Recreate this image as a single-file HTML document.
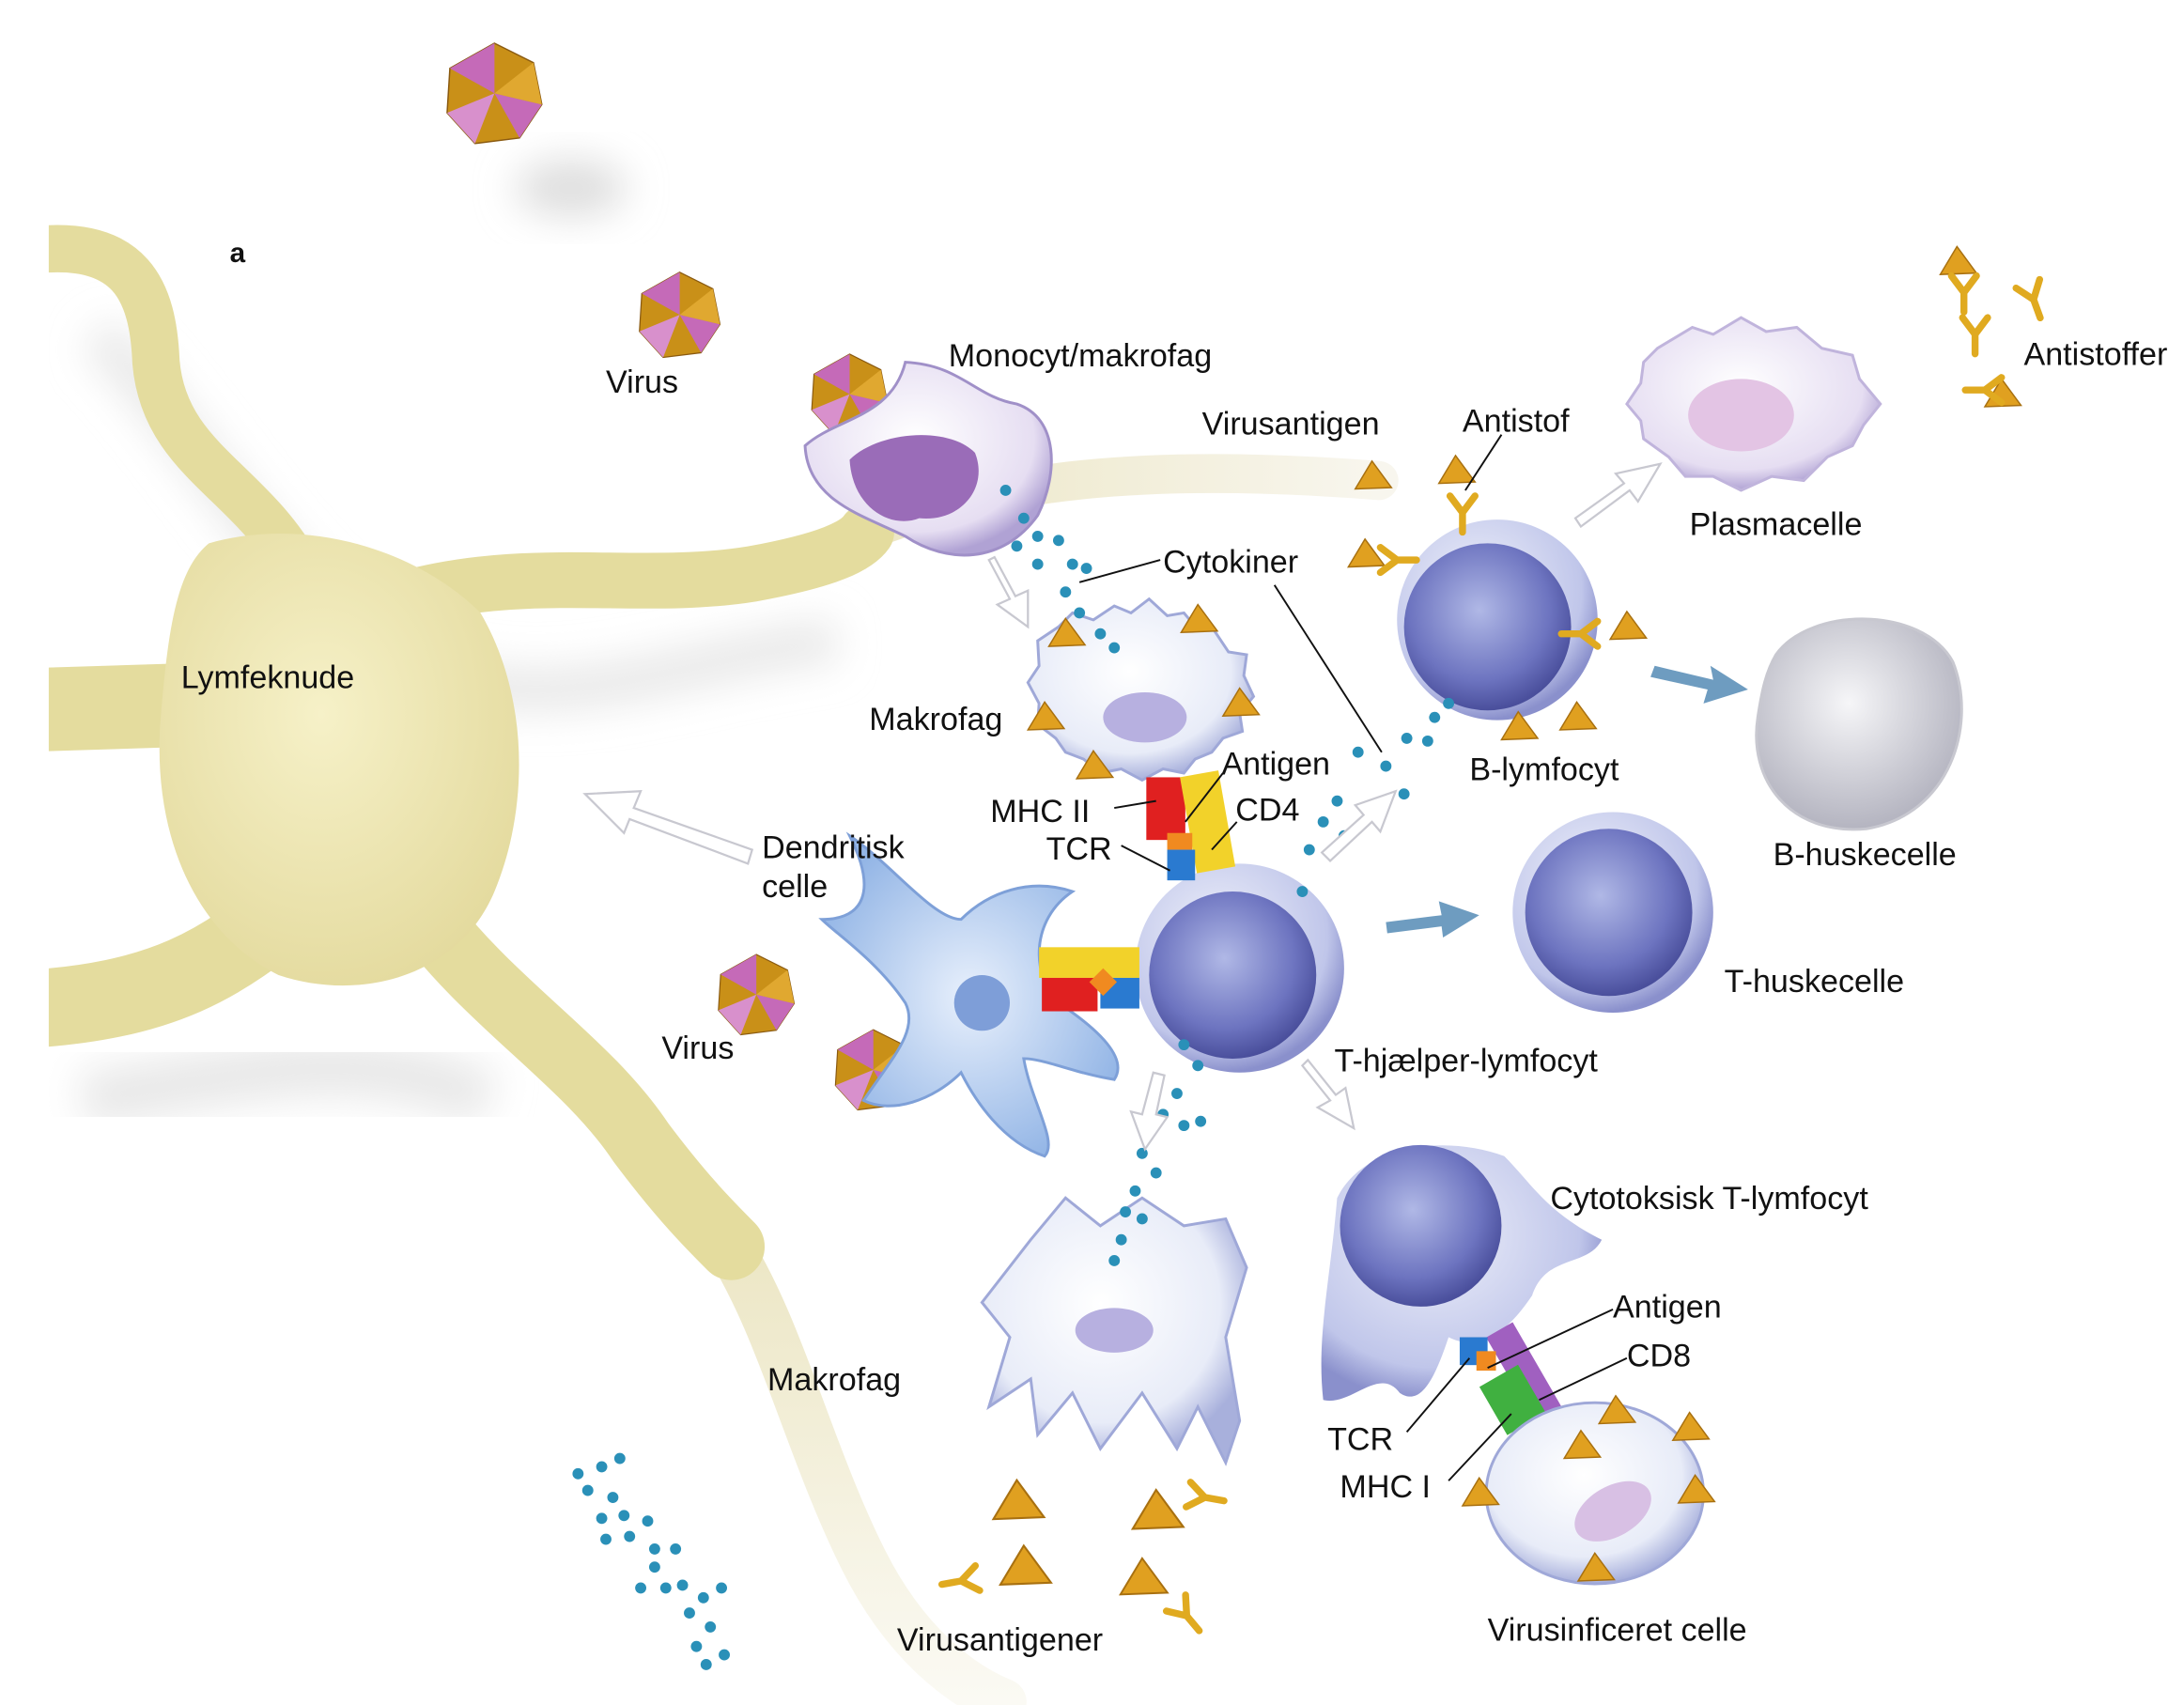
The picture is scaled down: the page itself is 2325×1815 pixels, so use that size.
<!DOCTYPE html>
<html><head><meta charset="utf-8"><style>
html,body{margin:0;padding:0;background:#fff;}
svg{display:block;}
text{font-family:"Liberation Sans",sans-serif;font-size:23px;fill:#111;}
</style></head><body>
<svg width="2325" height="1815" viewBox="0 0 1568 1224" xmlns="http://www.w3.org/2000/svg">
<defs>
<radialGradient id="nuc" cx="45%" cy="40%" r="60%"><stop offset="0" stop-color="#b0b8e6"/><stop offset="0.7" stop-color="#6d74c0"/><stop offset="1" stop-color="#4a4f9c"/></radialGradient>
<radialGradient id="lym" cx="40%" cy="35%" r="65%"><stop offset="0" stop-color="#eef0fa"/><stop offset="0.8" stop-color="#c0c6ea"/><stop offset="1" stop-color="#8a90cc"/></radialGradient>
<radialGradient id="mac" cx="45%" cy="40%" r="60%"><stop offset="0" stop-color="#ffffff"/><stop offset="0.75" stop-color="#e8ecf8"/><stop offset="1" stop-color="#a8b0dc"/></radialGradient>
<radialGradient id="mono" cx="45%" cy="40%" r="60%"><stop offset="0" stop-color="#ffffff"/><stop offset="0.8" stop-color="#e6def2"/><stop offset="1" stop-color="#b0a2d4"/></radialGradient>
<radialGradient id="dend" cx="50%" cy="50%" r="55%"><stop offset="0" stop-color="#e8f0fc"/><stop offset="1" stop-color="#94b6e6"/></radialGradient>
<radialGradient id="grey" cx="45%" cy="40%" r="60%"><stop offset="0" stop-color="#f6f6f8"/><stop offset="1" stop-color="#b4b4c0"/></radialGradient>
<radialGradient id="yel" cx="45%" cy="40%" r="70%"><stop offset="0" stop-color="#f6f1c8"/><stop offset="1" stop-color="#e2d89a"/></radialGradient>
<linearGradient id="ves" x1="0" y1="0" x2="1" y2="0"><stop offset="0" stop-color="#ece6c4"/><stop offset="1" stop-color="#f8f6ee"/></linearGradient>
<linearGradient id="ves2" x1="0" y1="0" x2="0" y2="1"><stop offset="0" stop-color="#ece6c4"/><stop offset="1" stop-color="#fbfaf4"/></linearGradient>
<filter id="blur" x="-50%" y="-50%" width="200%" height="200%"><feGaussianBlur stdDeviation="14"/></filter>
<clipPath id="cl"><rect x="35" y="0" width="1600" height="1224"/></clipPath>
<g id="vir"><polygon points="0,-36 28,-22 34,8 18,32 -14,36 -34,14 -32,-18" fill="#c99018" stroke="#8a5a10" stroke-width="1"/><polygon points="0,-36 0,0 -32,-18" fill="#c56ab8"/><polygon points="34,8 0,0 18,32" fill="#c56ab8"/><polygon points="-34,14 0,0 -14,36" fill="#d890cc"/><polygon points="28,-22 0,0 34,8" fill="#e0a830"/></g>
<g id="tri"><polygon points="0,-11 14,8 -12,9" fill="#e0a020" stroke="#a87010" stroke-width="1"/></g>
<g id="ab" fill="none" stroke="#e0aa20" stroke-width="5" stroke-linecap="round"><path d="M0,14 L0,0 L-9,-12 M0,0 L9,-12"/></g>
</defs>

<!-- shadows -->
<ellipse cx="410" cy="135" rx="40" ry="20" fill="#ddd" filter="url(#blur)"/>
<g clip-path="url(#cl)">
<path d="M70,240 C150,320 200,430 300,480 C400,520 500,470 600,460" stroke="#e8e8e8" stroke-width="30" fill="none" filter="url(#blur)"/>
<path d="M60,790 C180,770 260,750 350,790" stroke="#e8e8e8" stroke-width="40" fill="none" filter="url(#blur)"/>

<!-- pale vessels -->
<path d="M620,382 C700,350 800,330 990,345" stroke="url(#ves)" stroke-width="28" fill="none" stroke-linecap="round"/>
<path d="M520,890 C560,950 580,1040 620,1120 C650,1180 690,1210 720,1222" stroke="url(#ves2)" stroke-width="34" fill="none" stroke-linecap="round"/>

<!-- lymph node -->
<g stroke="#e4dc9e" fill="none" stroke-linecap="round">
<path d="M20,180 C95,170 110,210 112,260 C118,330 180,345 215,410" stroke-width="34"/>
<path d="M290,430 C380,405 460,425 540,412 C595,402 615,392 622,382" stroke-width="40"/>
<path d="M10,510 L170,505" stroke-width="60"/>
<path d="M10,725 C120,720 160,690 210,650" stroke-width="56"/>
<path d="M300,650 C350,720 420,760 460,820 C490,860 510,880 525,895" stroke-width="48"/>
</g>
<path d="M150,390 C220,370 300,395 345,440 C380,500 380,580 355,640 C330,700 260,720 200,700 C140,670 110,600 115,520 C120,460 125,410 150,390 Z" fill="url(#yel)"/>
</g>
<text x="130" y="494">Lymfeknude</text>
<text x="165" y="188" style="font-weight:bold;font-size:20px">a</text>

<!-- viruses -->
<use href="#vir" transform="translate(355,67)"/>
<use href="#vir" transform="translate(488,226) scale(0.85)"/>
<use href="#vir" transform="translate(610,283) scale(0.8)"/>
<use href="#vir" transform="translate(543,714) scale(0.8)"/>
<use href="#vir" transform="translate(627,768) scale(0.8)"/>
<text x="435" y="282">Virus</text>
<text x="475" y="760">Virus</text>

<!-- monocyte -->
<path d="M578,320 C600,300 640,300 650,260 C690,262 700,285 730,290 C760,300 760,340 745,370 C720,405 680,405 650,385 C620,370 580,360 578,320 Z" fill="url(#mono)" stroke="#a090c8" stroke-width="2"/>
<path d="M610,330 C630,310 680,305 700,325 C710,350 690,375 660,372 C640,380 612,365 610,330 Z" fill="#9a6cb8"/>
<text x="681" y="263">Monocyt/makrofag</text>

<!-- makrofag 1 -->
<path d="M745,460 L760,450 L770,440 L785,445 L800,435 L812,440 L825,430 L838,442 L850,440 L860,452 L870,450 L882,468 L895,470 L893,485 L900,500 L890,512 L892,525 L878,530 L870,540 L858,545 L850,555 L835,552 L820,560 L805,552 L790,555 L778,545 L765,540 L758,530 L745,520 L746,505 L738,490 L746,478 Z" fill="url(#mac)" stroke="#9fa8d8" stroke-width="2"/>
<ellipse cx="822" cy="515" rx="30" ry="18" fill="#b7b0e0"/>
<text x="624" y="524">Makrofag</text>

<!-- B lymphocyte -->
<circle cx="1075" cy="445" r="72" fill="url(#lym)"/>
<circle cx="1068" cy="450" r="60" fill="url(#nuc)"/>
<text x="1055" y="560">B-lymfocyt</text>

<!-- plasmacelle -->
<path d="M1180,260 L1190,250 L1215,235 L1230,240 L1250,228 L1268,238 L1290,235 L1308,250 L1330,255 L1335,272 L1350,290 L1338,305 L1330,320 L1312,328 L1295,345 L1272,342 L1250,352 L1230,342 L1210,342 L1198,328 L1180,315 L1178,302 L1168,290 L1178,275 Z" fill="url(#mono)" stroke="#c0b4dc" stroke-width="2"/>
<ellipse cx="1250" cy="298" rx="38" ry="26" fill="#e3c4e4"/>
<text x="1213" y="384">Plasmacelle</text>

<!-- B-huskecelle -->
<path d="M1275,470 C1300,435 1380,435 1402,475 C1420,520 1400,585 1340,595 C1285,600 1255,560 1262,515 C1265,495 1268,482 1275,470 Z" fill="url(#grey)" stroke="#c8c8d0" stroke-width="2"/>
<text x="1273" y="621">B-huskecelle</text>

<!-- T-huskecelle -->
<circle cx="1158" cy="655" r="72" fill="url(#lym)"/>
<circle cx="1155" cy="655" r="60" fill="url(#nuc)"/>
<text x="1238" y="712">T-huskecelle</text>

<!-- T helper -->
<circle cx="890" cy="695" r="75" fill="url(#lym)"/>
<circle cx="885" cy="700" r="60" fill="url(#nuc)"/>
<text x="958" y="769">T-hjælper-lymfocyt</text>

<!-- MHC complex vertical -->
<rect x="823" y="558" width="28" height="45" fill="#e02020"/>
<rect x="853" y="555" width="28" height="70" fill="#f2d22a" transform="rotate(-10 867 590)"/>
<rect x="838" y="598" width="18" height="12" fill="#f08a20"/>
<rect x="838" y="610" width="20" height="22" fill="#2a7ad0"/>

<!-- dendritic -->
<path d="M610,600 C640,620 670,660 690,660 C710,640 740,630 770,640 C740,660 740,700 760,720 C790,740 810,760 800,775 C770,770 750,760 735,760 C740,790 760,820 750,830 C720,820 700,790 690,770 C670,790 640,800 620,790 C640,760 660,740 650,720 C630,690 600,670 590,660 C620,660 630,640 610,600 Z" fill="url(#dend)" stroke="#7ea0d8" stroke-width="2"/>
<circle cx="705" cy="720" r="20" fill="#7e9ed8"/>
<text x="547" y="616">Dendritisk</text>
<text x="547" y="644">celle</text>
<rect x="746" y="680" width="72" height="22" fill="#f2d22a"/>
<rect x="748" y="702" width="40" height="24" fill="#e02020"/>
<rect x="790" y="702" width="28" height="22" fill="#2a7ad0"/>
<rect x="785" y="698" width="14" height="14" fill="#f08a20" transform="rotate(45 792 705)"/>

<!-- makrofag 2 -->
<path d="M740,890 L765,860 L790,880 L820,860 L850,880 L880,875 L895,910 L880,960 L890,1020 L880,1050 L860,1010 L845,1040 L820,1000 L790,1040 L770,1000 L745,1030 L740,990 L710,1010 L725,960 L705,935 Z" fill="url(#mac)" stroke="#9fa8d8" stroke-width="2"/>
<ellipse cx="800" cy="955" rx="28" ry="16" fill="#b7b0e0"/>
<text x="551" y="998">Makrofag</text>

<!-- cytotoxic -->
<path d="M960,860 C980,820 1040,815 1080,830 C1100,850 1110,870 1150,890 C1140,910 1110,900 1100,930 C1080,960 1060,970 1040,960 C1030,990 1020,1010 1005,1000 C990,980 970,1010 950,1005 C945,960 955,920 960,860 Z" fill="url(#lym)"/>
<circle cx="1020" cy="880" r="58" fill="url(#nuc)"/>
<text x="1113" y="868">Cytotoksisk T-lymfocyt</text>
<rect x="1083" y="950" width="22" height="70" fill="#a060c0" transform="rotate(-30 1094 985)"/>
<rect x="1070" y="985" width="32" height="40" fill="#40b040" transform="rotate(-30 1086 1005)"/>
<rect x="1048" y="960" width="20" height="20" fill="#2a7ad0"/>
<rect x="1060" y="970" width="14" height="14" fill="#f08a20"/>

<!-- infected cell -->
<ellipse cx="1145" cy="1072" rx="78" ry="65" fill="url(#mac)" stroke="#9fa8d8" stroke-width="2"/>
<ellipse cx="1158" cy="1085" rx="30" ry="18" fill="#d8c0e4" transform="rotate(-30 1158 1085)"/>
<text x="1068" y="1178">Virusinficeret celle</text>

<!-- triangles / antibodies -->
<g>
<use href="#tri" transform="translate(985,342)"/>
<use href="#tri" transform="translate(1045,338)"/>
<use href="#tri" transform="translate(980,398)"/>
<use href="#tri" transform="translate(1168,450)"/>
<use href="#tri" transform="translate(1090,522)"/>
<use href="#tri" transform="translate(1132,515)"/>
<use href="#tri" transform="translate(1405,188)"/>
<use href="#tri" transform="translate(1437,283)"/>
<use href="#tri" transform="translate(765,455)"/>
<use href="#tri" transform="translate(860,445)"/>
<use href="#tri" transform="translate(750,515)"/>
<use href="#tri" transform="translate(890,505)"/>
<use href="#tri" transform="translate(785,550)"/>
<use href="#tri" transform="translate(730,1078) scale(1.4)"/>
<use href="#tri" transform="translate(735,1125) scale(1.4)"/>
<use href="#tri" transform="translate(830,1085) scale(1.4)"/>
<use href="#tri" transform="translate(820,1133) scale(1.3)"/>
<use href="#tri" transform="translate(1135,1038)"/>
<use href="#tri" transform="translate(1213,1025)"/>
<use href="#tri" transform="translate(1217,1070)"/>
<use href="#tri" transform="translate(1062,1072)"/>
<use href="#tri" transform="translate(1145,1126)"/>
<use href="#tri" transform="translate(1160,1013)"/>
<use href="#ab" transform="translate(1050,368)"/>
<use href="#ab" transform="translate(1003,402) rotate(-90)"/>
<use href="#ab" transform="translate(1135,455) rotate(90)"/>
<use href="#ab" transform="translate(1410,210)"/>
<use href="#ab" transform="translate(1460,215) rotate(-20)"/>
<use href="#ab" transform="translate(1418,240)"/>
<use href="#ab" transform="translate(1425,280) rotate(90)"/>
<use href="#ab" transform="translate(865,1075) rotate(-80)"/>
<use href="#ab" transform="translate(690,1135) rotate(80)"/>
<use href="#ab" transform="translate(852,1160) rotate(-40)"/>
</g>

<!-- cytokine dots -->
<g fill="#2a90b8">
<circle cx="722" cy="352" r="4"/><circle cx="735" cy="372" r="4"/><circle cx="745" cy="385" r="4"/><circle cx="730" cy="392" r="4"/><circle cx="760" cy="388" r="4"/><circle cx="745" cy="405" r="4"/><circle cx="770" cy="405" r="4"/><circle cx="780" cy="408" r="4"/><circle cx="765" cy="425" r="4"/><circle cx="775" cy="440" r="4"/><circle cx="790" cy="455" r="4"/><circle cx="800" cy="465" r="4"/>
<circle cx="1030" cy="515" r="4"/><circle cx="1040" cy="505" r="4"/><circle cx="1010" cy="530" r="4"/><circle cx="1025" cy="532" r="4"/><circle cx="995" cy="550" r="4"/><circle cx="975" cy="540" r="4"/><circle cx="1008" cy="570" r="4"/><circle cx="960" cy="575" r="4"/><circle cx="950" cy="590" r="4"/><circle cx="965" cy="600" r="4"/><circle cx="940" cy="610" r="4"/><circle cx="935" cy="640" r="4"/>
<circle cx="850" cy="750" r="4"/><circle cx="860" cy="765" r="4"/><circle cx="845" cy="785" r="4"/><circle cx="835" cy="800" r="4"/><circle cx="850" cy="808" r="4"/><circle cx="862" cy="805" r="4"/><circle cx="820" cy="828" r="4"/><circle cx="830" cy="842" r="4"/><circle cx="815" cy="855" r="4"/><circle cx="808" cy="870" r="4"/><circle cx="820" cy="875" r="4"/><circle cx="805" cy="890" r="4"/><circle cx="800" cy="905" r="4"/>
<circle cx="415" cy="1058" r="4"/><circle cx="432" cy="1053" r="4"/><circle cx="445" cy="1047" r="4"/><circle cx="422" cy="1070" r="4"/><circle cx="440" cy="1075" r="4"/><circle cx="432" cy="1090" r="4"/><circle cx="448" cy="1088" r="4"/><circle cx="465" cy="1092" r="4"/><circle cx="435" cy="1105" r="4"/><circle cx="452" cy="1103" r="4"/><circle cx="470" cy="1112" r="4"/><circle cx="485" cy="1112" r="4"/><circle cx="470" cy="1125" r="4"/><circle cx="460" cy="1140" r="4"/><circle cx="478" cy="1140" r="4"/><circle cx="490" cy="1138" r="4"/><circle cx="505" cy="1147" r="4"/><circle cx="518" cy="1140" r="4"/><circle cx="495" cy="1158" r="4"/><circle cx="510" cy="1168" r="4"/><circle cx="500" cy="1182" r="4"/><circle cx="520" cy="1188" r="4"/><circle cx="507" cy="1195" r="4"/>
</g>

<!-- arrows white -->
<g fill="#fff" stroke="#c8c8d0" stroke-width="1.5">
<path d="M540,610 L455,580 L460,568 L420,570 L448,598 L452,588 L537,620 Z"/>
<path d="M710,402 L725,430 L716,434 L738,450 L738,424 L729,428 L714,400 Z"/>
<path d="M1135,378 L1170,352 L1176,360 L1192,333 L1160,340 L1166,347 L1131,372 Z"/>
<path d="M955,618 L985,590 L991,597 L1002,568 L973,578 L979,585 L949,612 Z"/>
<path d="M935,765 L955,790 L946,795 L972,810 L966,781 L959,786 L939,761 Z"/>
<path d="M828,770 L820,800 L812,798 L822,825 L838,802 L830,800 L836,772 Z"/>
</g>
<!-- arrows blue -->
<g fill="#6e9cc0">
<path d="M1188,478 L1230,488 L1228,478 L1255,495 L1223,505 L1226,495 L1185,486 Z"/>
<path d="M995,662 L1035,657 L1033,647 L1062,657 L1036,673 L1035,665 L996,670 Z"/>
</g>

<!-- labels & leaders -->
<g stroke="#111" stroke-width="1.3" fill="none">
<path d="M1078,312 L1052,352"/>
<path d="M833,402 L775,418"/>
<path d="M915,420 L992,540"/>
<path d="M878,555 L851,590"/>
<path d="M800,580 L830,575"/>
<path d="M888,590 L870,610"/>
<path d="M805,607 L840,625"/>
<path d="M1158,940 L1068,982"/>
<path d="M1168,975 L1105,1005"/>
<path d="M1010,1028 L1055,975"/>
<path d="M1040,1063 L1085,1015"/>
</g>
<text x="863" y="312">Virusantigen</text>
<text x="1050" y="310">Antistof</text>
<text x="835" y="411">Cytokiner</text>
<text x="1453" y="262">Antistoffer</text>
<text x="877" y="556">Antigen</text>
<text x="711" y="590">MHC II</text>
<text x="887" y="589">CD4</text>
<text x="751" y="617">TCR</text>
<text x="1158" y="946">Antigen</text>
<text x="1168" y="981">CD8</text>
<text x="953" y="1041">TCR</text>
<text x="962" y="1075">MHC I</text>
<text x="644" y="1185">Virusantigener</text>
</svg>
</body></html>
